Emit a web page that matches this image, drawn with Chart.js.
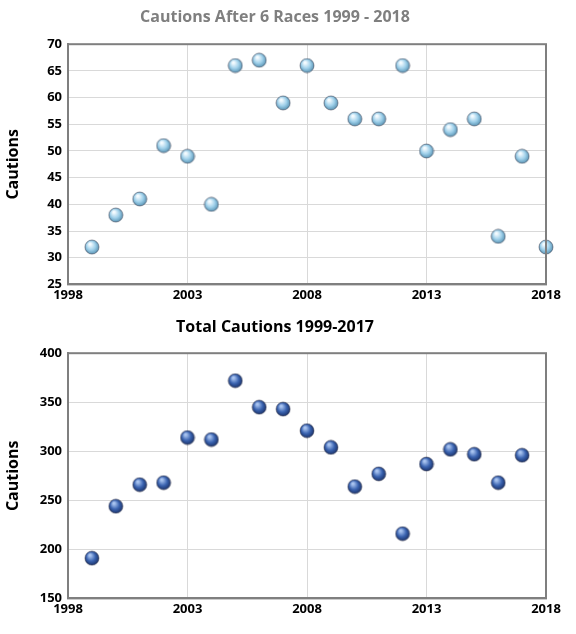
<!DOCTYPE html><html><head><meta charset="utf-8">
<script src="https://cdn.jsdelivr.net/npm/chart.js@4"></script>
<style>body{margin:0;background:#fff}div{position:absolute;left:0;width:576px}</style></head><body>
<div style="top:0;height:310px"><canvas id="c1"></canvas></div>
<div style="top:310px;height:324px"><canvas id="c2"></canvas></div>
<script>
const years1=[1999,2000,2001,2002,2003,2004,2005,2006,2007,2008,2009,2010,2011,2012,2013,2014,2015,2016,2017,2018];
const after6=[32,38,41,51,49,40,66,67,59,66,59,56,56,66,50,54,56,34,49,32];
const years2=[1999,2000,2001,2002,2003,2004,2005,2006,2007,2008,2009,2010,2011,2012,2013,2014,2015,2016,2017];
const totals=[191,244,266,268,314,312,372,345,343,321,304,264,277,216,287,302,297,268,296];
function sphere(light,mid,dark){const s=16,c=document.createElement('canvas');c.width=c.height=s;const g=c.getContext('2d');
const gr=g.createRadialGradient(6,5,1,8,8,8);gr.addColorStop(0,light);gr.addColorStop(0.5,mid);gr.addColorStop(1,dark);
g.fillStyle=gr;g.beginPath();g.arc(8,8,7,0,Math.PI*2);g.fill();g.strokeStyle='rgba(40,40,60,0.6)';g.lineWidth=0.8;g.stroke();return c;}
const f={family:"'Open Sans',sans-serif",weight:'bold'};
const frame={id:'frame',afterDatasetsDraw(ch){const a=ch.chartArea,c=ch.ctx;c.save();c.strokeStyle='#7f7f7f';c.lineWidth=2;c.strokeRect(a.left,a.top,a.right-a.left,a.bottom-a.top);c.restore();}};
function mk(id,xs,ys,title,tcol,ymin,ymax,ystep,img,tb,bb){
new Chart(document.getElementById(id),{type:'scatter',data:{datasets:[{data:xs.map((x,i)=>({x,y:ys[i]})),pointStyle:img,pointRadius:8,clip:false}]},plugins:[frame],
options:{responsive:true,maintainAspectRatio:false,animation:false,layout:{padding:{left:4,right:30,top:0,bottom:bb}},
plugins:{legend:{display:false},tooltip:{enabled:false},title:{display:true,text:title,color:tcol,font:{...f,size:16},padding:{top:8,bottom:tb}}},
scales:{x:{min:1998,max:2018,ticks:{stepSize:5,color:'#000',font:{...f,size:13},callback:v=>String(v)},grid:{color:'#d9d9d9',drawTicks:false},border:{color:'#7f7f7f',width:2}},
y:{min:ymin,max:ymax,ticks:{stepSize:ystep,color:'#000',font:{...f,size:13},padding:6},grid:{color:'#d9d9d9',drawTicks:false},border:{color:'#7f7f7f',width:2},
title:{display:true,text:'Cautions',color:'#000',font:{...f,size:16},padding:0},afterFit:a=>{a.width=64;}}}}});}
mk('c1',years1,after6,'Cautions After 6 Races 1999 - 2018','#7f7f7f',25,70,5,sphere('#f4fbff','#9fd0ea','#4a86a8'),17,4);
mk('c2',years2,totals,'Total Cautions 1999-2017','#000',150,400,50,sphere('#a9c4f0','#3a63b0','#14285a'),16,14);
</script></body></html>
